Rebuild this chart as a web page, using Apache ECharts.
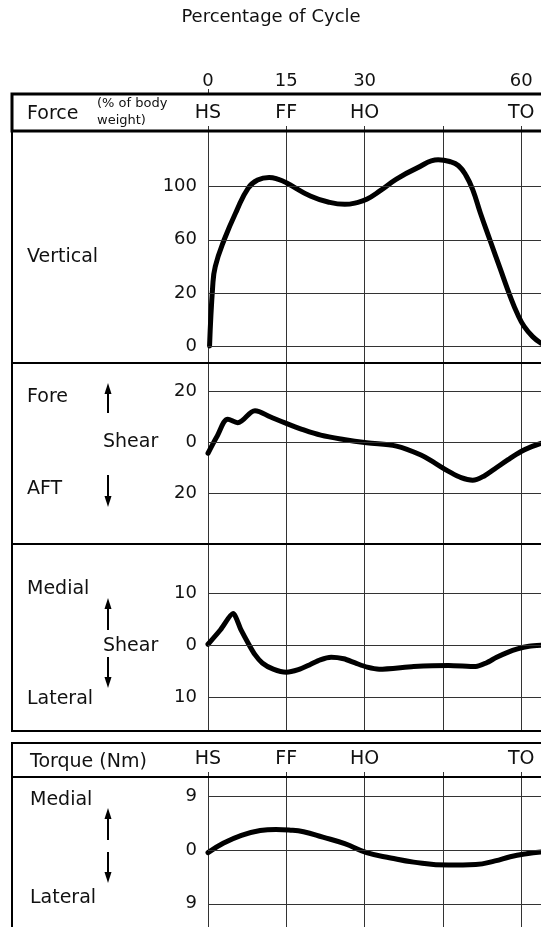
<!DOCTYPE html>
<html>
<head>
<meta charset="utf-8">
<title>Percentage of Cycle</title>
<script src="https://cdn.jsdelivr.net/npm/echarts@6/dist/echarts.min.js"></script>
<style>
    html, body { margin: 0; padding: 0; background: #fff; }
    #chart { width: 541px; height: 927px; }
</style>
</head>
<body>
<div id="chart"></div>
<script>
// x: percentage of gait cycle
const cycleTicks = [0, 15, 30, 60];
const phaseAt = [0, 15, 30, 60];
const phaseNames = ['HS', 'FF', 'HO', 'TO'];

// vertical force, % of body weight (bottom gridline is labelled 0)
const verticalTicks = [100, 60, 20, -20];
const verticalTickText = ['100', '60', '20', '0'];
const verticalForce = [
    [0.3, -20], [0.9, 25], [1.4, 40], [3.1, 60], [5.5, 82], [7.7, 99], [9.5, 105],
    [11.7, 107], [13.5, 105.5], [15, 103], [19.6, 93], [23, 88.5], [26.2, 86.7],
    [28.5, 88], [30.4, 90.5], [33, 97], [36.1, 105.7], [40, 114], [44.1, 120.3],
    [46.3, 119], [48, 115.8], [49.5, 108], [50.7, 98], [52.2, 80], [54, 60],
    [56, 38], [57.9, 17.3], [59.3, 4], [60.6, -5.5], [62.2, -13], [63.8, -18]
];

// fore / aft shear
const foreAftTicks = [20, 0, -20];
const foreAftShear = [
    [0, -4.4], [1.8, 2.5], [3.8, 8.9], [5.7, 7.6], [9, 12.3], [12, 9.8], [15, 7.3],
    [18, 5], [21.6, 2.7], [26, 1], [30.4, -0.3], [36.1, -1.6], [40.8, -5.1],
    [43.5, -8.3], [46.1, -11.5], [48.5, -14], [50.7, -15], [53, -13.2], [55.3, -10],
    [57.5, -6.9], [59.9, -3.8], [62, -1.8], [63.8, -0.5]
];

// medial / lateral shear
const medLatTicks = [10, 0, -10];
const medLatShear = [
    [0, 0.2], [2.4, 3], [4.8, 6.1], [6.3, 3], [7.7, 0.4], [9, -1.8], [10.4, -3.4],
    [12.5, -4.6], [15, -5.2], [17.3, -4.7], [19.6, -3.7], [21.5, -2.8], [23.6, -2.3],
    [26, -2.6], [28.2, -3.4], [30.5, -4.2], [32.8, -4.6], [39.4, -4.1], [46.1, -3.9],
    [51.3, -4.1], [53.3, -3.4], [55.3, -2.3], [57.3, -1.4], [59.3, -0.7], [61.5, -0.2],
    [63.8, 0]
];

// torque (Nm), medial up / lateral down
const torqueTicks = [9, 0, -9];
const torque = [
    [0, -0.4], [3, 1.2], [6.4, 2.5], [10, 3.3], [13, 3.5], [15.5, 3.4], [18.3, 3.1],
    [22, 2.2], [26.2, 1.1], [30.4, -0.4], [35, -1.3], [39.4, -2.0], [46.1, -2.5],
    [51.3, -2.4], [55, -1.8], [57.9, -1.1], [61, -0.6], [63.8, -0.3]
];

const FONT = '"DejaVu Sans", "Liberation Sans", Arial, sans-serif';
const LINE = '#333';
const X_MAX = 63.8;

// grids: 0 force header, 1-3 force panels, 4 torque header, 5 torque panel
const gridBoxes = [
    [94, 37], [131, 232], [363, 181], [544, 187], [743, 34], [777, 150]
];
const grids = gridBoxes.map(b => ({
    left: 208, right: 0, top: b[0], height: b[1], outerBoundsMode: 'none'
}));

function phaseLabel(v) {
    const i = phaseAt.indexOf(Math.round(v));
    return i >= 0 ? phaseNames[i] : '';
}

function panelX(gridIndex) {
    return {
        type: 'value', gridIndex: gridIndex, min: 0, max: X_MAX, interval: 15,
        axisLine: { show: false }, axisTick: { show: false }, axisLabel: { show: false },
        splitLine: { show: true, lineStyle: { color: LINE, width: 1 } }
    };
}

function headerX(gridIndex) {
    return {
        type: 'value', gridIndex: gridIndex, position: 'bottom', min: 0, max: X_MAX, interval: 15,
        axisLine: { show: false },
        axisTick: { show: true, inside: true, length: 5, lineStyle: { color: LINE } },
        axisLabel: {
            inside: true, margin: 8, customValues: phaseAt, formatter: phaseLabel,
            color: '#111', fontSize: 19, fontFamily: FONT
        },
        splitLine: { show: false }
    };
}

function panelY(gridIndex, min, max, ticks, fmt) {
    return {
        type: 'value', gridIndex: gridIndex, min: min, max: max,
        axisLine: { show: false }, axisTick: { show: false }, splitLine: { show: false },
        axisLabel: {
            customValues: ticks, formatter: fmt, margin: 11,
            color: '#111', fontSize: 18, fontFamily: FONT
        }
    };
}

function curve(idx, data, ticks, smooth) {
    return {
        type: 'line', xAxisIndex: idx, yAxisIndex: idx, data: data,
        showSymbol: false, smooth: smooth,
        lineStyle: { color: '#000', width: 5, join: 'round', cap: 'round' },
        markLine: {
            silent: true, symbol: ['none', 'none'], label: { show: false },
            lineStyle: { color: LINE, width: 1, type: 'solid' },
            emphasis: { disabled: true },
            data: ticks.map(v => ({ yAxis: v }))
        }
    };
}

const absFmt = v => String(Math.abs(Math.round(v)));

const xAxes = [
    headerX(0), panelX(1), panelX(2), panelX(3), headerX(4), panelX(5),
    {
        type: 'value', gridIndex: 0, position: 'top', min: 0, max: X_MAX,
        axisLine: { show: false },
        axisTick: { show: true, customValues: [0], length: 5, lineStyle: { color: LINE } },
        axisLabel: {
            customValues: cycleTicks, margin: 4, formatter: v => String(Math.round(v)),
            color: '#111', fontSize: 18, fontFamily: FONT
        },
        splitLine: { show: false }
    }
];

const yAxes = [
    { type: 'value', gridIndex: 0, show: false },
    panelY(1, -32.9, 142, verticalTicks, v => verticalTickText[verticalTicks.indexOf(Math.round(v))] || ''),
    panelY(2, -40, 31, foreAftTicks, absFmt),
    panelY(3, -16.5, 19.5, medLatTicks, absFmt),
    { type: 'value', gridIndex: 4, show: false },
    panelY(5, -12.9, 12.3, torqueTicks, absFmt)
];

// frames, side texts and arrows
function box(y, h, lw) {
    return { type: 'rect', shape: { x: 12, y: y, width: 540, height: h },
             style: { fill: 'none', stroke: '#000', lineWidth: lw }, z: 10 };
}
function text(str, x, y, size, align) {
    return { type: 'text', z: 10, style: {
        text: str, x: x, y: y, fill: '#111', fontSize: size, fontFamily: FONT,
        textAlign: align || 'left', textVerticalAlign: 'middle' } };
}
function arrow(x, tail, head) {
    const d = head < tail ? 1 : -1;
    return [
        { type: 'line', z: 10, shape: { x1: x, y1: tail, x2: x, y2: head + d * 8 },
          style: { stroke: '#000', lineWidth: 2 } },
        { type: 'polygon', z: 10, shape: { points: [[x, head], [x - 3.5, head + d * 11], [x + 3.5, head + d * 11]] },
          style: { fill: '#000' } }
    ];
}

const graphics = [
    box(94, 37, 3), box(131, 232, 2), box(363, 181, 2), box(544, 187, 2),
    box(743, 34, 2), box(777, 170, 2),
    text('Percentage of Cycle', 271, 17, 18, 'center'),
    text('Force', 27, 114, 19),
    text('(% of body', 97, 104, 13),
    text('weight)', 97, 121, 13),
    text('Vertical', 27, 257, 19),
    text('Fore', 27, 397, 19),
    text('Shear', 103, 442, 19),
    text('AFT', 27, 489, 19),
    text('Medial', 27, 589, 19),
    text('Shear', 103, 646, 19),
    text('Lateral', 27, 699, 19),
    text('Torque (Nm)', 30, 762, 19),
    text('Medial', 30, 800, 19),
    text('Lateral', 30, 898, 19)
].concat(
    arrow(108, 413, 383), arrow(108, 475, 507),
    arrow(108, 630, 598), arrow(108, 657, 688),
    arrow(108, 840, 808), arrow(108, 852, 883)
);

const chart = echarts.init(document.getElementById('chart'), null, { renderer: 'canvas' });
chart.setOption({
    animation: false,
    backgroundColor: '#fff',
    grid: grids,
    xAxis: xAxes,
    yAxis: yAxes,
    graphic: graphics,
    series: [
        curve(1, verticalForce, verticalTicks, 0.45),
        curve(2, foreAftShear, foreAftTicks, 0.35),
        curve(3, medLatShear, medLatTicks, 0.25),
        curve(5, torque, torqueTicks, 0.45)
    ]
});
</script>
</body>
</html>
